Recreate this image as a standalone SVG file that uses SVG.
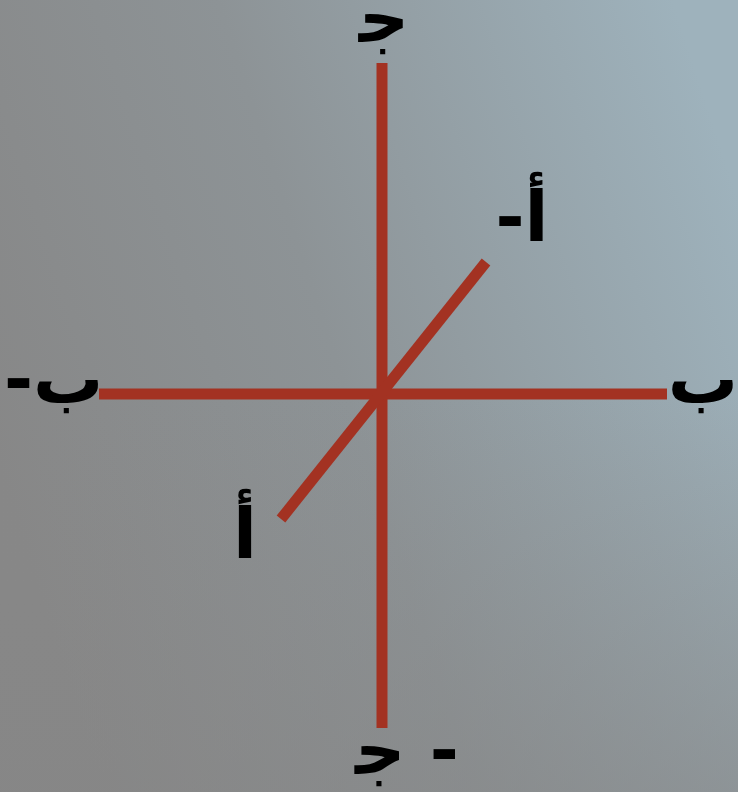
<svg xmlns="http://www.w3.org/2000/svg" width="738" height="792" viewBox="0 0 738 792">
<defs>
<linearGradient id="bg" x1="0" y1="0.6" x2="1" y2="0.25">
<stop offset="0" stop-color="#878787"/>
<stop offset="0.45" stop-color="#8d9396"/>
<stop offset="1" stop-color="#9eb2bc"/>
</linearGradient>
<linearGradient id="shade" x1="0" y1="0" x2="0" y2="1">
<stop offset="0.5" stop-color="#888" stop-opacity="0"/>
<stop offset="1" stop-color="#868686" stop-opacity="0.55"/>
</linearGradient>
</defs>
<style>
.ax{stroke:#a33222;stroke-width:11;fill:none}
.lb{font-family:"DejaVu Sans",sans-serif;font-weight:bold;font-size:70px;fill:#000}
</style>
<rect width="738" height="792" fill="url(#bg)"/>
<rect width="738" height="792" fill="url(#shade)"/>
<g id="connectors">
<line class="ax" x1="382" y1="63" x2="382" y2="728"/>
<line class="ax" x1="99" y1="394" x2="667" y2="394"/>
<line class="ax" x1="281" y1="519" x2="486" y2="262"/>
</g>
<g id="label-c"><text class="lb" x="384" y="42" text-anchor="middle">ﺟ</text></g>
<g id="label-c-neg"><text class="lb" x="407" y="774" text-anchor="middle" direction="ltr">ﺟ -</text></g>
<g id="label-b"><text class="lb" x="738" y="403" text-anchor="end">ب</text></g>
<g id="label-b-neg"><text class="lb" x="4" y="403" direction="ltr">-ب</text></g>
<g id="label-a"><text class="lb" x="245" y="558" text-anchor="middle">أ</text></g>
<g id="label-a-neg"><text class="lb" x="522" y="241" text-anchor="middle" direction="ltr">-أ</text></g>
</svg>
